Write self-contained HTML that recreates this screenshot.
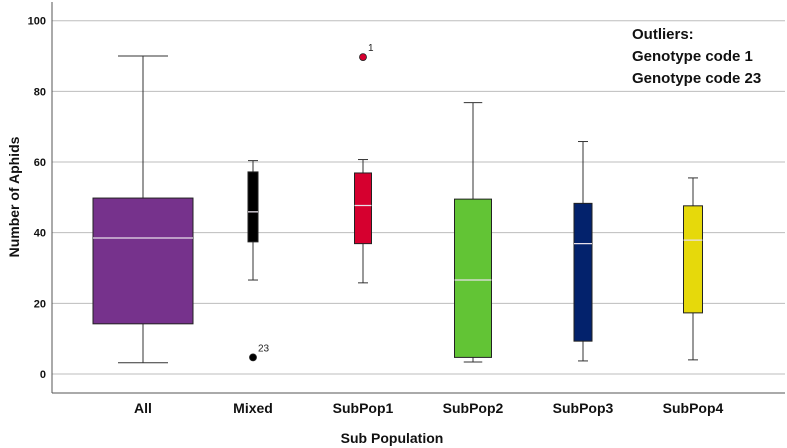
<!DOCTYPE html>
<html><head><meta charset="utf-8"><style>
html,body{margin:0;padding:0;background:#fff;}
svg{display:block;font-family:"Liberation Sans",Arial,sans-serif;}
</style></head><body>
<svg id="chart" width="787" height="448"></svg>
<script>
const categories=["All","Mixed","SubPop1","SubPop2","SubPop3","SubPop4"];
const maxVals=[90,60.4,60.7,76.8,65.8,55.5];
const q3Vals=[49.8,57.2,56.9,49.5,48.3,47.6];
const medianVals=[38.5,45.9,47.7,26.6,36.9,37.9];
const q1Vals=[14.2,37.4,36.9,4.7,9.3,17.3];
const minVals=[3.2,26.6,25.8,3.4,3.7,4.0];
const relWidths=[100,10,17,37,18,19];
const colors=["#76328c","#000000","#d6002f","#62c435","#03226c","#e6d90b"];
const outlierCats=["SubPop1","Mixed"];
const outlierVals=[89.7,4.7];
const outlierLabels=["1","23"];
const outlierColors=["#d6002f","#000000"];
const yTicks=[0,20,40,60,80,100];

const svg=document.getElementById('chart');
const NS='http://www.w3.org/2000/svg';
function el(t,a){const e=document.createElementNS(NS,t);for(const k in a)e.setAttribute(k,a[k]);svg.appendChild(e);return e;}
const y=v=>374-v*3.533;
const x=i=>143+i*110;

yTicks.forEach(t=>{
  const g=el('line',{x1:52,x2:785,y1:y(t),y2:y(t),stroke:'#bdbdbd','stroke-width':1});
  
  
  const tx=el('text',{x:46,y:y(t)+4,'text-anchor':'end','font-size':11,'font-weight':'bold',fill:'#111'});
  tx.textContent=t;
  
  
});
const ax=el('line',{x1:52,x2:52,y1:2,y2:393,stroke:'#555','stroke-width':1});


const bx=el('line',{x1:52,x2:785,y1:393,y2:393,stroke:'#555','stroke-width':1});



categories.forEach((c,i)=>{
  const cx=x(i),w=relWidths[i],cap=Math.max(w/2,10);
  const wl=el('line',{x1:cx,x2:cx,y1:y(maxVals[i]),y2:y(minVals[i]),stroke:'#333','stroke-width':1});
  
  
  [maxVals[i],minVals[i]].forEach((v,j)=>{
    const cp=el('line',{x1:cx-cap/2,x2:cx+cap/2,y1:y(v),y2:y(v),stroke:'#333','stroke-width':1});
    
    
  });
  const r=el('rect',{x:cx-w/2,y:y(q3Vals[i]),width:w,height:y(q1Vals[i])-y(q3Vals[i]),fill:colors[i],stroke:'#222','stroke-width':1});
  
  
  const m=el('line',{x1:cx-w/2,x2:cx+w/2,y1:y(medianVals[i]),y2:y(medianVals[i]),stroke:'#e8e0ea','stroke-width':1.3});
  
  
  const t=el('text',{x:cx,y:413,'text-anchor':'middle','font-size':14,'font-weight':'bold',fill:'#111'});
  t.textContent=c;
  
  
});

outlierCats.forEach((c,k)=>{
  const cx=x(categories.indexOf(c));
  const p=el('circle',{cx:cx,cy:y(outlierVals[k]),r:3.5,fill:outlierColors[k],stroke:'#222','stroke-width':0.8});
  
  
  const t=el('text',{x:cx+5,y:y(outlierVals[k])-6,'font-size':10,fill:'#222'});
  t.textContent=outlierLabels[k];
  
  
});

const yt=el('text',{x:0,y:0,transform:'translate(19,197) rotate(-90)','text-anchor':'middle','font-size':14,'font-weight':'bold',fill:'#111'});
yt.textContent='Number of Aphids';


const xt=el('text',{x:392,y:443,'text-anchor':'middle','font-size':14,'font-weight':'bold',fill:'#111'});
xt.textContent='Sub Population';



["Outliers:","Genotype code 1","Genotype code 23"].forEach((s,i)=>{
  const t=el('text',{x:632,y:39+i*22,'font-size':15,'font-weight':'bold',fill:'#111'});
  t.textContent=s;
  
  
});
</script>
</body></html>
